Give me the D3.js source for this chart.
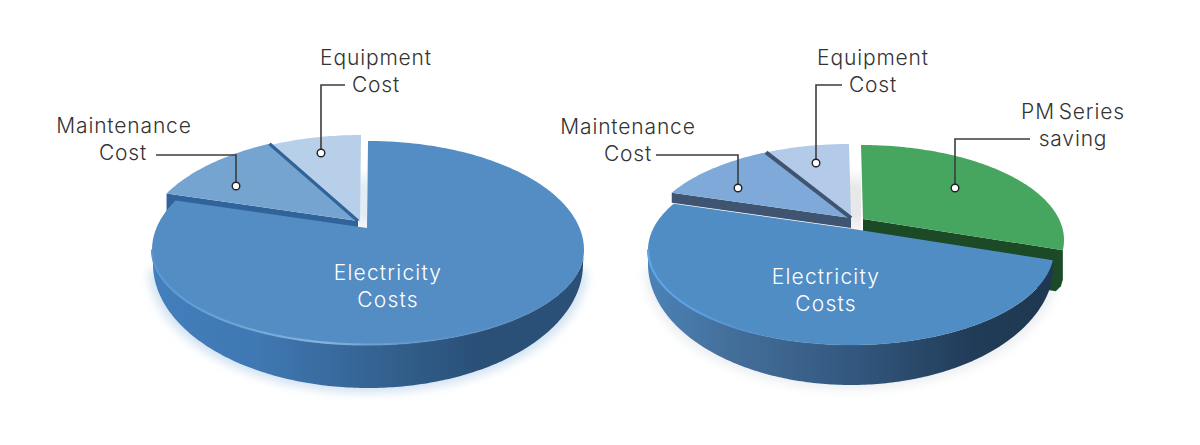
<!DOCTYPE html>
<html><head><meta charset="utf-8">
<script src="https://cdn.jsdelivr.net/npm/d3@7"></script>
<style>html,body{margin:0;padding:0;background:#fff}svg{display:block}
text{font-family:Inter,"Noto Sans",sans-serif;font-weight:300;font-size:21px;letter-spacing:.85px;text-anchor:middle}
text.in{letter-spacing:1.2px}</style>
</head><body><svg id="c" width="1200" height="445"></svg>
<script>
// Slice shares (percent)
const leftNames = ["Electricity Costs","Maintenance Cost","Equipment Cost"];
const leftValues = [82.5, 10.7, 6.8];
const rightNames = ["PM Series saving","Electricity Costs","Maintenance Cost","Equipment Cost"];
const rightValues = [26.7, 56.4, 10.2, 6.7];

const svg = d3.select("#c"), defs = svg.append("defs");
const lineGen = d3.line();
function grad(id, x0, x1, stops, y0=0, y1=0){
  const g = defs.append("linearGradient").attr("id",id).attr("gradientUnits","userSpaceOnUse")
    .attr("x1",x0).attr("x2",x1).attr("y1",y0).attr("y2",y1);
  stops.forEach(s=>g.append("stop").attr("offset",s[0]).attr("stop-color",s[1]).attr("stop-opacity",s[2]===undefined?1:s[2]));
  return `url(#${id})`;
}
defs.append("filter").attr("id","blur").attr("x","-10%").attr("y","-20%").attr("width","120%").attr("height","140%")
  .append("feGaussianBlur").attr("stdDeviation",5);

function drawPie(P, names, values){
  const g = svg.append("g");
  const slices = d3.pie().sort(null).value(d=>d)(values);
  slices.forEach((s,i)=>s.name=names[i]);
  const sx = d3.scaleLinear().domain([-1,1]).range([P.cx-P.rx,P.cx+P.rx]);
  const sy = d3.scaleLinear().domain([-1,0,1]).range([P.cy-P.ryUp,P.cy,P.cy+P.ryDown]);
  const bx = d3.scaleLinear().domain([-1,1]).range([P.cx-P.rxB,P.cx+P.rxB]);
  const by = d3.scaleLinear().domain([-1,1]).range([P.cyB-P.ryB,P.cyB+P.ryB]);
  const rim = (a,o=[0,0],d=0)=>[sx(Math.sin(a))+o[0], sy(-Math.cos(a))+o[1]+d];
  const low = a=>[bx(Math.sin(a)), by(-Math.cos(a))];
  const angles = (a0,a1)=>d3.range(a0,a1,0.015).concat([a1]);
  const apex = (o=[0,0],d=0)=>[P.ax+o[0],P.ay+o[1]+d];
  const wedge = (s,o)=>lineGen([apex(o),...angles(s.startAngle,s.endAngle).map(a=>rim(a,o))])+"Z";
  const cutFace = (a,o,d)=>{
    const r=rim(a,o);
    return lineGen([apex(o),r,[r[0],r[1]+d*.72],[r[0]-2,r[1]+d*.88],[r[0]-7,r[1]+d],apex(o,d)])+"Z";
  };
  const byName = n=>slices.find(s=>s.name===n);
  const off = n=>P.offsets[n]||[0,0];

  // soft halo under the disc (lower half only)
  g.append("path").attr("d",lineGen(angles(Math.PI/2,Math.PI*1.5).map(a=>{const p=low(a);return [p[0]+(p[0]-P.cx)*.02,p[1]+5];}))+"Z")
    .attr("fill",P.halo).attr("filter","url(#blur)");

  // pale gap between the raised slices
  const el = byName("Electricity Costs");
  g.append("path").attr("d",lineGen([[P.ax-8,P.ay-60],[P.ax+P.gap,P.ay-60],[P.ax+P.gap,P.ay+2],[P.ax-8,P.ay+2]])+"Z")
    .attr("fill",grad(P.id+"g",0,0,[[0,"#fff"],[.3,P.gapFill],[.75,P.gapFill],[1,"#f8f8f8"]],P.ay-60,P.ay+2));

  // green slice: cut face first
  if(byName("PM Series saving")){
    const s = byName("PM Series saving"), o = off(s.name);
    g.append("path").attr("d",cutFace(s.endAngle,o,P.depth)).attr("fill","#1c4a26");
    g.append("path").attr("d",wedge(s,o)).attr("fill",P.colors[s.name]);
  }

  // small slices with dark cut faces
  const mt = byName("Maintenance Cost"), eq = byName("Equipment Cost");
  const mo = off(mt.name), mr = rim(mt.startAngle,mo);
  g.append("path").attr("d",lineGen([apex(mo),mr,[mr[0],mr[1]+P.wallDepth],apex(mo,P.wallDepth)])+"Z").attr("fill",P.wall);
  g.append("path").attr("d",wedge(eq,off(eq.name))).attr("fill",P.colors[eq.name]);
  g.append("path").attr("d",wedge(mt,mo)).attr("fill",P.colors[mt.name]);
  g.append("path").attr("d",lineGen([apex(mo),rim(mt.endAngle,mo)])).attr("stroke",P.wall).attr("stroke-width",P.divider).attr("fill","none");

  // front wall of the big slice
  const fa = Math.max(el.startAngle,Math.PI/2), fb = Math.min(el.endAngle,Math.PI*1.5);
  const front = angles(fa,fb);
  g.append("path").attr("d",lineGen([...front.map(a=>rim(a)),...front.slice().reverse().map(low)])+"Z")
    .attr("fill",grad(P.id+"w",P.cx-P.rx,P.cx+P.rx,P.wallStops));
  // top face
  g.append("path").attr("d",wedge(el,[0,0])).attr("fill",P.colors[el.name]);
  // bevel highlight along the front edge
  g.append("path").attr("d",lineGen(front.map(a=>rim(a,[0,0],-0.5)))).attr("fill","none").attr("stroke-width",2.2)
    .attr("stroke",grad(P.id+"h",P.cx-P.rx,P.cx+P.rx,P.hiStops));

  // labels and leaders
  P.leaders.forEach(l=>{
    g.append("path").attr("d",lineGen(l)).attr("fill","none").attr("stroke","#3d3d3d").attr("stroke-width",1.6);
    g.append("circle").attr("cx",l[l.length-1][0]).attr("cy",l[l.length-1][1]).attr("r",3.8)
      .attr("fill","#fff").attr("stroke","#222").attr("stroke-width",1.4);
  });
  P.labels.forEach(t=>g.append("text").attr("x",t[1]).attr("y",t[2]).attr("fill",t[3]||"#333").attr("class",t[3]?"in":null)
    .style("word-spacing",t[4]||null).text(t[0]));
}

drawPie({id:"L",cx:368,cy:250,rx:216,ryUp:109,ryDown:95,rxB:215,cyB:264,ryB:124,ax:367,ay:228,depth:44,wallDepth:19,divider:3.2,gap:0,
  offsets:{"Maintenance Cost":[-9,-7],"Equipment Cost":[-7,-6]},
  colors:{"Electricity Costs":"#538dc4","Maintenance Cost":"#75a4d0","Equipment Cost":"#b7cfe8"},
  wall:"#30639a",halo:"#d3e3f2",gapFill:"#e3ecf5",
  wallStops:[[0,"#437fbc"],[.25,"#3f78b2"],[.55,"#33608e"],[.75,"#2a5078"],[1,"#2a5078"]],
  hiStops:[[0,"#5a96d0"],[.4,"#86b4dc"],[.6,"#6a9cca",.6],[1,"#538dc4",0]],
  leaders:[[[156,155],[236,155],[236,186]],[[345,85],[321,85],[321,153]]],
  labels:[["Maintenance",124,133],["Cost",123,160],["Equipment",376,65],["Cost",376,92],["Electricity",388,280,"#fff"],["Costs",388,307,"#fff"]]
},leftNames,leftValues);

drawPie({id:"R",cx:851,cy:250,rx:203,ryUp:95,ryDown:95,rxB:203,cyB:264,ryB:121,ax:853,ay:229,depth:41,wallDepth:10,divider:4,gap:8,
  offsets:{"Maintenance Cost":[-2,-11],"Equipment Cost":[-2,-11],"PM Series saving":[10,-10]},
  colors:{"Electricity Costs":"#518dc5","Maintenance Cost":"#7fa9d9","Equipment Cost":"#b3cae8","PM Series saving":"#46a55f"},
  wall:"#3f5470",halo:"#eceff2",gapFill:"#e8e8e8",
  wallStops:[[0,"#4b82b6"],[.2,"#446f9b"],[.5,"#33587f"],[.8,"#213c58"],[1,"#1f3850"]],
  hiStops:[[0,"#5fa6ea"],[.12,"#5b9fe0"],[.3,"#518dc5",.3],[1,"#518dc5",0]],
  leaders:[[[656,155],[738,155],[738,188]],[[842,85],[816,85],[816,163]],[[1030,139],[955,139],[955,188]]],
  labels:[["Maintenance",628,134],["Cost",628,161],["Equipment",873,65],["Cost",873,92],["PM Series",1073,119,null,"-3px"],["saving",1073,146],["Electricity",826,284,"#fff"],["Costs",826,311,"#fff"]]
},rightNames,rightValues);
</script></body></html>
